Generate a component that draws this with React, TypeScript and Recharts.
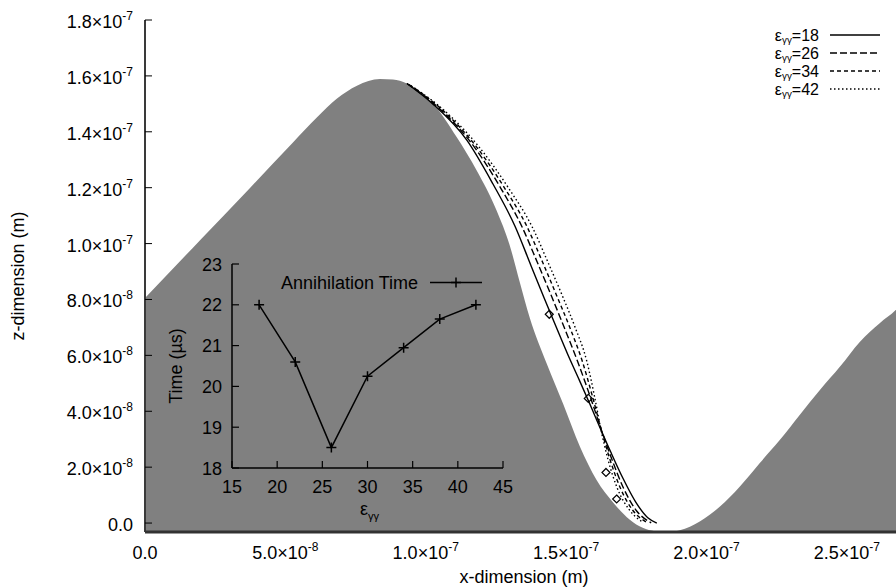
import React from 'react';
import {
  ComposedChart,
  LineChart,
  Line,
  Area,
  Scatter,
  XAxis,
  YAxis,
  Legend,
  Label,
  ReferenceLine,
} from 'recharts';

const FONT = '"Liberation Sans", Arial, Helvetica, sans-serif';

// ---------- main chart data (metres) ----------
// grey wall profile
const wallX = [0, 19.6e-9, 37.4e-9, 52.7e-9, 61.2e-9, 68.4e-9, 75.5e-9, 83.7e-9, 88.3e-9, 93.3e-9, 102.6e-9, 111.0e-9, 118.1e-9, 125.2e-9, 129.9e-9, 133.5e-9, 137.1e-9, 143.0e-9, 149.0e-9, 154.9e-9, 160.8e-9, 166.8e-9, 172.7e-9, 177.3e-9, 181.6e-9, 186.2e-9, 190.5e-9, 194.1e-9, 197.6e-9, 204.8e-9, 211.9e-9, 219.0e-9, 226.1e-9, 233.2e-9, 240.4e-9, 247.5e-9, 254.6e-9, 261.7e-9, 267.4e-9, 270.0e-9];
const wallZ = [80.5e-9, 101.2e-9, 119.9e-9, 136.2e-9, 145.1e-9, 151.9e-9, 156.5e-9, 158.9e-9, 158.7e-9, 157.3e-9, 150.1e-9, 138.1e-9, 126.2e-9, 111.9e-9, 99.4e-9, 86.2e-9, 73.3e-9, 57.3e-9, 42.5e-9, 27.4e-9, 15.5e-9, 7.3e-9, 1.2e-9, -1.7e-9, -2.9e-9, -3.2e-9, -2.6e-9, -1.3e-9, 0.6e-9, 5.9e-9, 13.1e-9, 21.5e-9, 29.7e-9, 38.7e-9, 47.6e-9, 55.9e-9, 64.8e-9, 71.5e-9, 76.2e-9, 79.0e-9];

// trajectories for eps_gg = 18, 26, 34, 42
const traj18X = [93.3e-9, 102.6e-9, 114.7e-9, 123.9e-9, 131.8e-9, 137.5e-9, 142.1e-9, 146.4e-9, 150.6e-9, 154.9e-9, 158.5e-9, 162.0e-9, 165.9e-9, 170.2e-9, 174.8e-9, 179.1e-9, 182.3e-9];
const traj18Z = [157.3e-9, 149.9e-9, 136.9e-9, 121.4e-9, 106.2e-9, 92.1e-9, 80.7e-9, 70.3e-9, 60.3e-9, 50.7e-9, 42.5e-9, 34.3e-9, 25.4e-9, 16.1e-9, 7.5e-9, 1.9e-9, 0.0];
const traj26X = [93.3e-9, 104.1e-9, 117.2e-9, 126.8e-9, 134.2e-9, 139.7e-9, 144.6e-9, 149.2e-9, 154.1e-9, 158.7e-9, 162.5e-9, 166.3e-9, 170.3e-9, 175.0e-9, 180.3e-9];
const traj26Z = [157.3e-9, 149.0e-9, 134.7e-9, 119.7e-9, 106.2e-9, 93.4e-9, 81.7e-9, 70.3e-9, 57.8e-9, 44.9e-9, 33.5e-9, 22.8e-9, 12.8e-9, 4.5e-9, 0.1e-9];
const traj34X = [94.0e-9, 104.6e-9, 118.0e-9, 128.2e-9, 136.0e-9, 141.6e-9, 146.5e-9, 151.2e-9, 155.8e-9, 159.5e-9, 162.5e-9, 165.6e-9, 169.2e-9, 173.8e-9, 178.8e-9];
const traj34Z = [156.9e-9, 149.0e-9, 134.7e-9, 119.7e-9, 106.2e-9, 93.4e-9, 81.7e-9, 70.3e-9, 57.8e-9, 44.9e-9, 33.5e-9, 22.8e-9, 12.8e-9, 4.5e-9, 0.2e-9];
const traj42X = [94.7e-9, 105.0e-9, 118.9e-9, 129.6e-9, 137.8e-9, 143.5e-9, 148.5e-9, 153.1e-9, 157.4e-9, 160.2e-9, 162.4e-9, 164.9e-9, 168.1e-9, 172.7e-9, 177.3e-9];
const traj42Z = [156.5e-9, 149.0e-9, 134.7e-9, 119.7e-9, 106.2e-9, 93.4e-9, 81.7e-9, 70.3e-9, 57.8e-9, 44.9e-9, 33.5e-9, 22.8e-9, 12.8e-9, 4.5e-9, 0.3e-9];

// diamond markers
const diamondX = [144.0e-9, 157.9e-9, 164.2e-9, 168.0e-9];
const diamondZ = [74.7e-9, 44.6e-9, 18.1e-9, 8.6e-9];

const epsValues = ['18', '26', '34', '42'];

const xTicks = [0, 5e-8, 1e-7, 1.5e-7, 2e-7, 2.5e-7];
const xTickLabels = ['0.0', '5.0×10^-8', '1.0×10^-7', '1.5×10^-7', '2.0×10^-7', '2.5×10^-7'];
const yTicks = [0, 2e-8, 4e-8, 6e-8, 8e-8, 1e-7, 1.2e-7, 1.4e-7, 1.6e-7, 1.8e-7];
const yTickLabels = ['0.0', '2.0×10^-8', '4.0×10^-8', '6.0×10^-8', '8.0×10^-8', '1.0×10^-7', '1.2×10^-7', '1.4×10^-7', '1.6×10^-7', '1.8×10^-7'];

// ---------- inset data ----------
const insetEps = [18, 22, 26, 30, 34, 38, 42];
const insetTime = [22.0, 20.6, 18.5, 20.25, 20.95, 21.65, 22.0];
const insetXTicks = [15, 20, 25, 30, 35, 40, 45];
const insetYTicks = [18, 19, 20, 21, 22, 23];

// ---------- build tables ----------
const zip = (xs: number[], zs: number[]) => xs.map((x, i) => ({ x, z: zs[i] }));
const wallData = zip(wallX, wallZ);
const trajData = [zip(traj18X, traj18Z), zip(traj26X, traj26Z), zip(traj34X, traj34Z), zip(traj42X, traj42Z)];
const diamondData = zip(diamondX, diamondZ);
const insetData = insetEps.map((e, i) => ({ eps: e, time: insetTime[i] }));

const dashStyles = ['', '7 3', '4 3', '1.5 2.5'];

const SupText = ({ x, y, label, anchor }: any) => {
  const [m, e] = String(label).split('^');
  return (
    <text x={x} y={y} textAnchor={anchor} fontFamily={FONT} fontSize={18} fill="#000">
      {m}
      {e ? (
        <tspan dy={-8} fontSize={12}>
          {e}
        </tspan>
      ) : null}
    </text>
  );
};

const MainYTick = (p: any) => {
  const { x, y, payload } = p;
  const i = yTicks.indexOf(payload.value);
  return (
    <g>
      <line x1={x} x2={x + 7} y1={y} y2={y} stroke="#000" strokeWidth={1} />
      <SupText x={x - 12} y={y + 8} label={yTickLabels[i]} anchor="end" />
    </g>
  );
};
const MainXTick = (p: any) => {
  const { x, y, payload } = p;
  const i = xTicks.indexOf(payload.value);
  return <SupText x={x} y={y + 27} label={xTickLabels[i]} anchor="middle" />;
};
const TopTick = (p: any) => <line x1={p.x} x2={p.x} y1={p.y} y2={p.y + 7} stroke="#000" strokeWidth={1} />;
const RightTick = (p: any) => <line x1={p.x} x2={p.x - 7} y1={p.y} y2={p.y} stroke="#000" strokeWidth={1} />;

const EpsText = ({ x, y, value, anchor, size, sub }: any) => (
  <text x={x} y={y} textAnchor={anchor} fontFamily={FONT} fontSize={size} fill="#000">
    ε
    <tspan dy={sub} fontSize={size * 0.62}>
      γγ
    </tspan>
    {value ? <tspan dy={-sub}>{value}</tspan> : null}
  </text>
);

const MainLegend = () => (
  <svg width={160} height={90}>
    {epsValues.map((v, i) => (
      <g key={v}>
        <EpsText x={79} y={16.5 + i * 18} value={'=' + v} anchor="end" size={16} sub={2} />
        <line x1={90} x2={140} y1={11 + i * 18} y2={11 + i * 18} stroke="#000" strokeWidth={1.5} strokeDasharray={dashStyles[i] || undefined} />
      </g>
    ))}
  </svg>
);

const renderDiamond = (p: any) => {
  const { cx, cy } = p;
  if (cx == null || cy == null) return <g />;
  const r = 4;
  return <polygon points={`${cx},${cy - r} ${cx + r},${cy} ${cx},${cy + r} ${cx - r},${cy}`} fill="none" stroke="#000" strokeWidth={1.2} />;
};

// inset ticks
const InsetLeftTick = (p: any) => (
  <g>
    <line x1={p.x} x2={p.x + 7} y1={p.y} y2={p.y} stroke="#000" strokeWidth={1.2} />
    <text x={p.x - 10} y={p.y + 6.5} textAnchor="end" fontFamily={FONT} fontSize={18} fill="#000">
      {p.payload.value}
    </text>
  </g>
);
const InsetBottomTick = (p: any) => (
  <g>
    <line x1={p.x} x2={p.x} y1={p.y} y2={p.y - 7} stroke="#000" strokeWidth={1.2} />
    <text x={p.x} y={p.y + 25} textAnchor="middle" fontFamily={FONT} fontSize={18} fill="#000">
      {p.payload.value}
    </text>
  </g>
);
const InsetTopTick = (p: any) => <line x1={p.x} x2={p.x} y1={p.y} y2={p.y + 7} stroke="#000" strokeWidth={1.2} />;
const InsetRightTick = (p: any) => <line x1={p.x} x2={p.x - 7} y1={p.y} y2={p.y} stroke="#000" strokeWidth={1.2} />;

const renderPlus = (p: any) => {
  const { cx, cy, index } = p;
  if (cx == null || cy == null) return <g key={index} />;
  return (
    <path key={index} d={`M${cx - 5},${cy}H${cx + 5}M${cx},${cy - 5}V${cy + 5}`} stroke="#000" strokeWidth={1.5} fill="none" />
  );
};

const InsetLegend = () => (
  <svg width={210} height={30}>
    <text x={138} y={22} textAnchor="end" fontFamily={FONT} fontSize={18} fill="#000">
      Annihilation Time
    </text>
    <line x1={150} x2={202} y1={15.5} y2={15.5} stroke="#000" strokeWidth={1.5} />
    <path d="M176,10.5V20.5M171,15.5H181" stroke="#000" strokeWidth={1.5} />
  </svg>
);

export default function App() {
  return (
    <div style={{ position: 'absolute', left: 0, top: 0, width: 896, height: 588, overflow: 'hidden', background: '#fff' }}>
      <ComposedChart width={910} height={588} margin={{ top: 20, right: 7, bottom: 0, left: 0 }}>
        <YAxis
          type="number"
          domain={[-3.2e-9, 1.8e-7]}
          ticks={yTicks}
          interval={0}
          width={145}
          tickSize={0}
          tickMargin={0}
          axisLine={false}
          tick={<MainYTick />}
          allowDataOverflow
          label={
            <Label
              content={(lp: any) => {
                const vb = lp.viewBox || { x: 0, y: 20, width: 145, height: 512 };
                const cx = vb.x + 24;
                const cy = vb.y + vb.height / 2;
                return (
                  <text x={cx} y={cy} transform={`rotate(-90 ${cx} ${cy})`} textAnchor="middle" fontFamily={FONT} fontSize={18} fill="#000">
                    z-dimension (m)
                  </text>
                );
              }}
            />
          }
        />
        <YAxis yAxisId="right" orientation="right" type="number" domain={[-3.2e-9, 1.8e-7]} ticks={yTicks} interval={0} width={0} tickSize={0} tickMargin={0} axisLine={{ stroke: '#000', strokeWidth: 1.5 }} tick={<RightTick />} allowDataOverflow />
        <XAxis
          dataKey="x"
          type="number"
          domain={[0, 2.7e-7]}
          ticks={xTicks}
          interval={0}
          height={56}
          tickSize={0}
          tickMargin={0}
          axisLine={false}
          tick={<MainXTick />}
          allowDataOverflow
          label={
            <Label
              content={(lp: any) => {
                const vb = lp.viewBox || { x: 145, y: 532, width: 758, height: 56 };
                return (
                  <text x={vb.x + vb.width / 2} y={vb.y + 51} textAnchor="middle" fontFamily={FONT} fontSize={18} fill="#000">
                    x-dimension (m)
                  </text>
                );
              }}
            />
          }
        />
        <XAxis xAxisId="top" orientation="top" type="number" domain={[0, 2.7e-7]} ticks={xTicks} interval={0} height={0} tickSize={0} tickMargin={0} axisLine={{ stroke: '#000', strokeWidth: 1.5 }} tick={<TopTick />} allowDataOverflow />
        <Area data={wallData} dataKey="z" type="monotone" fill="#808080" fillOpacity={1} stroke="none" baseValue="dataMin" isAnimationActive={false} />
        {trajData.map((d, i) => (
          <Line key={epsValues[i]} data={d} dataKey="z" type="monotone" stroke="#000" strokeWidth={1.4} strokeDasharray={dashStyles[i] || undefined} dot={false} activeDot={false} isAnimationActive={false} />
        ))}
        <Scatter data={diamondData} dataKey="z" shape={renderDiamond} isAnimationActive={false} />
        <ReferenceLine x={0} stroke="#3a3a3a" strokeWidth={2} />
        <ReferenceLine y={-3.2e-9} stroke="#333" strokeWidth={3} />
        <Legend layout="vertical" align="center" verticalAlign="middle" content={<MainLegend />} wrapperStyle={{ position: 'absolute', left: 740, top: 24, width: 160, height: 90 }} />
      </ComposedChart>

      <div style={{ position: 'absolute', left: 140, top: 240 }}>
        <LineChart width={380} height={300} data={insetData} margin={{ top: 24, right: 17, bottom: 0, left: 0 }}>
          <XAxis
            dataKey="eps"
            type="number"
            domain={[15, 45]}
            ticks={insetXTicks}
            interval={0}
            height={72}
            tickSize={0}
            tickMargin={0}
            axisLine={{ stroke: '#000', strokeWidth: 1.5 }}
            tick={<InsetBottomTick />}
            label={
              <Label
                content={(lp: any) => {
                  const vb = lp.viewBox || { x: 92, y: 228, width: 271, height: 72 };
                  return <EpsText x={vb.x + vb.width / 2 + 2} y={vb.y + 47} anchor="middle" size={18} sub={5} />;
                }}
              />
            }
          />
          <XAxis xAxisId="top" orientation="top" type="number" domain={[15, 45]} ticks={insetXTicks} interval={0} height={0} tickSize={0} tickMargin={0} axisLine={{ stroke: '#000', strokeWidth: 1.5 }} tick={<InsetTopTick />} />
          <YAxis
            type="number"
            domain={[18, 23]}
            ticks={insetYTicks}
            interval={0}
            width={92}
            tickSize={0}
            tickMargin={0}
            axisLine={{ stroke: '#000', strokeWidth: 1.5 }}
            tick={<InsetLeftTick />}
            label={
              <Label
                content={(lp: any) => {
                  const vb = lp.viewBox || { x: 0, y: 24, width: 92, height: 204 };
                  const cx = vb.x + 42;
                  const cy = vb.y + vb.height / 2;
                  return (
                    <text x={cx} y={cy} transform={`rotate(-90 ${cx} ${cy})`} textAnchor="middle" fontFamily={FONT} fontSize={18} fill="#000">
                      Time (µs)
                    </text>
                  );
                }}
              />
            }
          />
          <YAxis yAxisId="right" orientation="right" type="number" domain={[18, 23]} ticks={insetYTicks} interval={0} width={0} tickSize={0} tickMargin={0} axisLine={{ stroke: '#000', strokeWidth: 1.5 }} tick={<InsetRightTick />} />
          <Line dataKey="time" type="linear" stroke="#000" strokeWidth={1.5} dot={renderPlus} activeDot={false} isAnimationActive={false} />
          <Legend layout="vertical" align="center" verticalAlign="middle" content={<InsetLegend />} wrapperStyle={{ position: 'absolute', left: 140, top: 27, width: 210, height: 30 }} />
        </LineChart>
      </div>
    </div>
  );
}
